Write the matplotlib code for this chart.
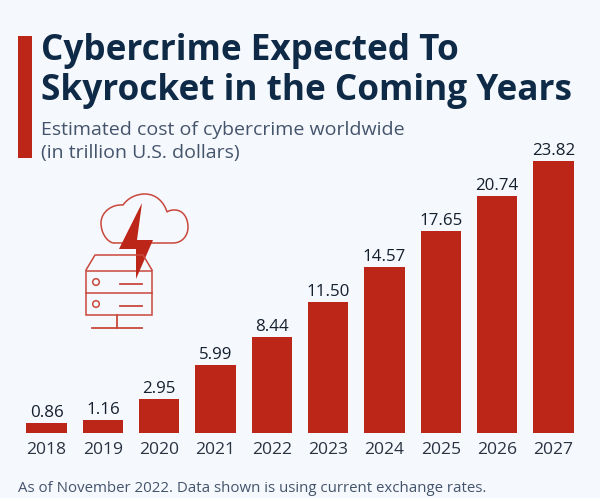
#!/usr/bin/python3
import numpy as np
import matplotlib
matplotlib.use('Agg')
import matplotlib.pyplot as plt
from matplotlib.patches import Rectangle, Circle, Polygon, PathPatch
from matplotlib.path import Path

years = ['2018', '2019', '2020', '2021', '2022', '2023', '2024', '2025', '2026', '2027']
costs = [0.86, 1.16, 2.95, 5.99, 8.44, 11.50, 14.57, 17.65, 20.74, 23.82]
labels = ['0.86', '1.16', '2.95', '5.99', '8.44', '11.50', '14.57', '17.65', '20.74', '23.82']

BG = '#f5f8fc'
RED = '#bb2618'
ICON = '#c9473c'
NAVY = '#0e2a47'
GREY = '#44546c'
W, H = 600, 498

plt.rcParams['font.family'] = ['Open Sans', 'DejaVu Sans']
fig = plt.figure(figsize=(W / 100, H / 100), dpi=100, facecolor=BG)

## == bars ==
ax = fig.add_axes([0, (H - 433) / H, 1, 272 / H])
ax.set_facecolor('none')
xpos = np.arange(len(years))
step = 56.33
ax.set_xlim(-46.5 / step, (W - 46.5) / step)
ax.set_ylim(0, 23.82)
ax.bar(xpos, costs, width=40.5 / step, color=RED, clip_on=False)
for x, c, l in zip(xpos, costs, labels):
    ax.annotate(l, (x, c), xytext=(0, 4.3), textcoords='offset points', ha='center', va='baseline',
                fontsize=12.2, color='#14202e', annotation_clip=False)
ax.set_xticks(xpos, years)
ax.tick_params(axis='x', length=0, pad=15.1, labelsize=12.6, labelcolor='#2a3342')
for t in ax.get_xticklabels():
    t.set_va('baseline')
ax.set_yticks([])
for s in ax.spines.values():
    s.set_visible(False)

## == overlay in pixel coords: title block and icon ==
ov = fig.add_axes([0, 0, 1, 1])
ov.set_xlim(0, W)
ov.set_ylim(H, 0)
ov.axis('off')
ov.patch.set_alpha(0)

ov.add_patch(Rectangle((18, 36), 14, 122, color=RED, lw=0))
ov.text(41, 60, 'Cybercrime Expected To', fontsize=25.3, fontweight='bold', color=NAVY, va='baseline')
ov.text(41, 100, 'Skyrocket in the Coming Years', fontsize=25.3, fontweight='bold', color=NAVY, va='baseline')
ov.text(41, 135, 'Estimated cost of cybercrime worldwide', fontsize=14, color=GREY, va='baseline')
ov.text(41, 158, '(in trillion U.S. dollars)', fontsize=14, color=GREY, va='baseline')
ov.text(18, 492, 'As of November 2022. Data shown is using current exchange rates.',
        fontsize=10.8, color=GREY, va='baseline')

## icon, cloud outline
cloud = Path([(113, 243),
              (106, 241), (101, 232), (101, 223),
              (101, 212), (112, 204), (123, 205),
              (128, 198), (136, 194), (145, 194),
              (156, 194), (164, 202), (167, 212),
              (170, 210), (172, 210), (175, 210),
              (183, 210), (188, 218), (188, 227),
              (188, 236), (182, 243), (173, 243),
              (113, 243)],
             [Path.MOVETO] + [Path.CURVE4] * 21 + [Path.LINETO])
ov.add_patch(PathPatch(cloud, fill=False, edgecolor=ICON, lw=1.1))
## server
ov.plot([86, 95, 143, 152], [270, 255, 255, 270], color=ICON, lw=1.1)
ov.add_patch(Rectangle((85.5, 271), 66.5, 44, fill=False, edgecolor=ICON, lw=1.1))
ov.plot([85.5, 152], [293, 293], color=ICON, lw=1.1)
ov.add_patch(Circle((96, 282), 3.3, fill=False, edgecolor=ICON, lw=1.1))
ov.add_patch(Circle((96, 304), 3.3, fill=False, edgecolor=ICON, lw=1.1))
ov.plot([120, 142], [284, 284], color=ICON, lw=1.3)
ov.plot([120, 142], [306, 306], color=ICON, lw=1.3)
ov.plot([117, 117], [315, 328], color=ICON, lw=1.3)
ov.plot([92, 142], [328, 328], color=ICON, lw=1.3)
## bolt
ov.add_patch(Polygon([(142, 203), (119, 249), (136, 249), (136, 279), (153, 240), (137, 240)],
                     closed=True, color=RED, lw=0))

fig.savefig('out.png', dpi=100, facecolor=BG)
